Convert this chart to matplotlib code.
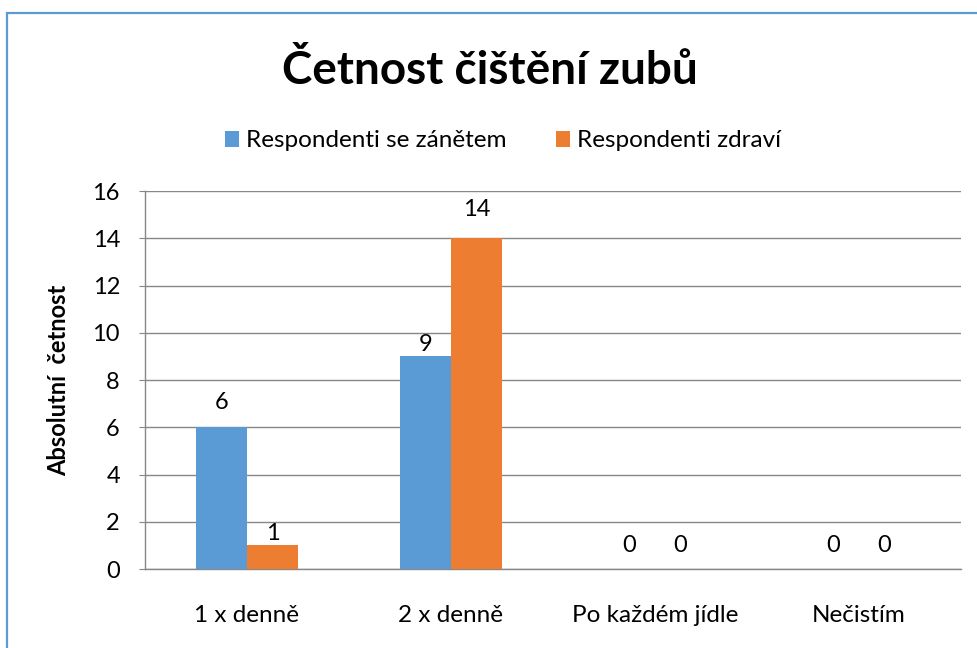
import matplotlib.pyplot as plt
import matplotlib.patches as patches
import numpy as np

# Data
categories = ['1 x denně', '2 x denně', 'Po každém jídle', 'Nečistím']
series_names = ['Respondenti se zánětem', 'Respondenti zdraví']
zanet = [6, 9, 0, 0]
zdravi = [1, 14, 0, 0]
y_ticks = [0, 2, 4, 6, 8, 10, 12, 14, 16]

blue = '#5B9BD5'
orange = '#ED7D31'
grid_col = '#878787'

plt.rcParams['font.family'] = ['Lato', 'DejaVu Sans']

fig = plt.figure(figsize=(9.77, 6.48), dpi=100)
ax = fig.add_axes([0.1484, 0.1219, 0.8352, 0.5833])

x = np.arange(len(categories))
w = 0.25
b1 = ax.bar(x - w / 2, zanet, w, color=blue, label=series_names[0], zorder=3)
b2 = ax.bar(x + w / 2, zdravi, w, color=orange, label=series_names[1], zorder=3)

# label offsets (points above bar top), as placed in the original
off1 = [13, 3.6, 12.2, 12.2]
off2 = [3.6, 15.8, 12.2, 12.2]
for xi, v, o in zip(x - w / 2, zanet, off1):
    ax.annotate(str(v), (xi, v), xytext=(0, o), textcoords='offset points',
                ha='center', va='baseline', fontsize=17)
for xi, v, o in zip(x + w / 2, zdravi, off2):
    ax.annotate(str(v), (xi, v), xytext=(0, o), textcoords='offset points',
                ha='center', va='baseline', fontsize=17)

ax.set_xlim(-0.5, len(categories) - 0.5)
ax.set_ylim(0, 16)
ax.set_yticks(y_ticks)
ax.set_xticks(x)
ax.set_xticklabels(categories)
ax.tick_params(axis='y', labelsize=17, length=4, color=grid_col, pad=14)
ax.tick_params(axis='x', labelsize=17.5, length=0, pad=26)
ax.yaxis.grid(True, color=grid_col, linewidth=1, zorder=0)
ax.set_axisbelow(True)
for s in ['top', 'right']:
    ax.spines[s].set_visible(False)
for s in ['left', 'bottom']:
    ax.spines[s].set_color(grid_col)
    ax.spines[s].set_linewidth(1)

ax.set_ylabel('Absolutní  četnost', fontsize=17, fontweight='bold', labelpad=16)

fig.text(0.5015, 1 - 71 / 648, 'Četnost čištění zubů', ha='center', va='center',
         fontsize=33, fontweight='bold')

fig.legend(handles=[b1, b2], loc='center', bbox_to_anchor=(503 / 977, 1 - 141 / 648),
           ncol=2, frameon=False, fontsize=17.5, handlelength=0.6, handleheight=0.6,
           handletextpad=0.3, columnspacing=2.0)

# outer chart frame (partly cropped in the original)
fig.patches.append(patches.Rectangle((7 / 977, -0.1), 1.2, 1 - 13 / 648 + 0.1,
                                     transform=fig.transFigure, fill=False,
                                     edgecolor=blue, linewidth=1.6))

fig.savefig('out.png', dpi=100)
